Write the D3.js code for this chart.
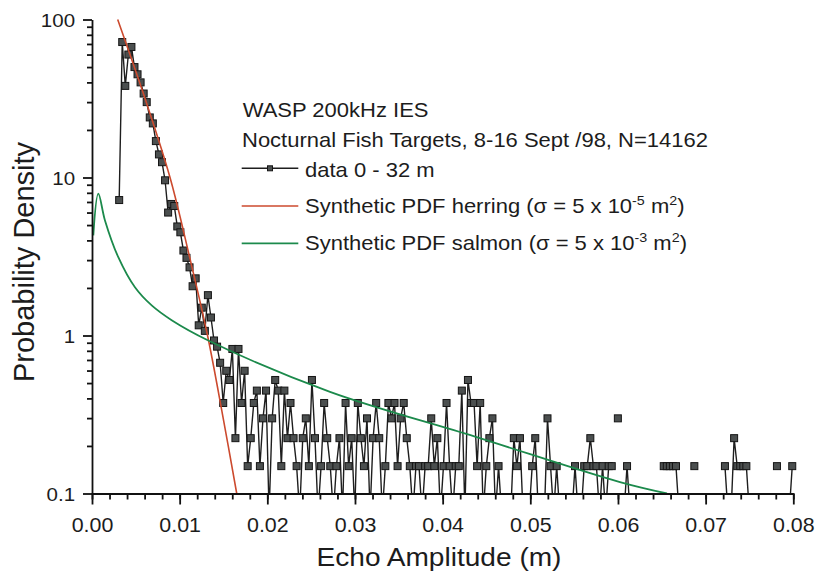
<!DOCTYPE html>
<html>
<head>
<meta charset="utf-8">
<script src="https://cdn.jsdelivr.net/npm/d3@7"></script>
<style>
  body { margin: 0; background: #fff; }
  svg { display: block; }
  text { font-family: "Liberation Sans", Arial, sans-serif; fill: #1c1c1c; }
</style>
</head>
<body>
<svg id="chart" width="817" height="573"></svg>
<script>
// histogram bins of the measured echo amplitudes
const binStart = 0.0031;
const binWidth = 0.000349;
const dataDensity = [
  7.2, 72, 38, 60, 67, 50, 45, 40, 34, 30, 24, 22, 17, 14, 12.5, 9.6, 6.0, 6.8, 6.6, 4.9,
  4.5, 3.45, 3.1, 2.7, 2.05, 2.3, 1.16, 1.5, 1.07, 1.8, 1.3, 0.93, 0.85,
  0.672, 0.374, 0.598, 0.523, 0.822, 0.224, 0.822, 0.374, 0.598, 0.149, 0.224, 0.374, 0.448, 0.149, 0.299, 0.448,
  0.075, 0.299, 0.523, 0.448, 0.149, 0.448, 0.224, 0.374, 0.224, 0.149, 0.075, 0.224, 0.299, 0.149, 0.523, 0.224,
  0.075, 0.149, 0.374, 0.224, 0.149,
  0.075, 0.149, 0.224, 0.075, 0.374, 0.149, 0.224, 0.075, 0.374, 0.224, 0.149, 0.299, 0.075, 0.224, 0.374, 0.224,
  0.075, 0.149, 0.374, 0.299, 0.374, 0.149, 0.299, 0.374, 0.224, 0.149, 0.075, 0.149, 0.149, 0.075, 0.149, 0.149,
  0.299, 0.149, 0.224, 0.075, 0.149, 0.374, 0.149, 0.075, 0.149, 0.149, 0.448, 0.075, 0.523, 0.374,
  0.374, 0.149, 0.374, 0.075, 0.149, 0.224, 0.299, 0.075, 0.149, 0.075, 0.075, 0.075, 0.075, 0.224, 0.149, 0.224,
  0.075, 0.075, 0.075, 0.149, 0.224, 0.075, 0.075, 0.075, 0.299, 0.149, 0.075, 0.149, 0.075, 0.075, 0.075, 0.075,
  0.075, 0.149, 0.075, 0.075, 0.149, 0.149, 0.224, 0.149, 0.149, 0.075, 0.149, 0.075, 0.149, 0.149, 0, 0.299,
  0, 0.075, 0.149, 0.075,
  0, 0, 0, 0, 0, 0, 0, 0, 0, 0, 0.149, 0.149, 0.149, 0.149, 0.149, 0.075, 0, 0, 0, 0,
  0.149, 0, 0, 0, 0, 0, 0, 0, 0, 0, 0.149, 0.075, 0.075, 0.224, 0.149, 0.149, 0.149, 0.149,
  0.075, 0, 0, 0, 0, 0, 0, 0, 0, 0.149, 0, 0, 0, 0.075, 0.149
];

// synthetic PDF curves
const herringX = [0.00293, 0.00605, 0.0089, 0.01112, 0.01318, 0.01489, 0.01651];
const herringY = [100, 31.6, 10, 3.16, 1, 0.316, 0.1];
const salmonX = [0.00015, 0.00072, 0.00148, 0.0030, 0.0049, 0.00681, 0.00909, 0.01327, 0.02715, 0.04369, 0.06023, 0.06559];
const salmonY = [4.3, 7.9, 5.35, 3.13, 2.02, 1.55, 1.25, 0.93, 0.44, 0.229, 0.118, 0.1];

const xMajorTicks = [0, 0.01, 0.02, 0.03, 0.04, 0.05, 0.06, 0.07, 0.08];
const yMajorTicks = [0.1, 1, 10, 100];
const yTickLabels = ["0.1", "1", "10", "100"];

const legendLines = [
  "WASP 200kHz IES",
  "Nocturnal Fish Targets, 8-16 Sept /98, N=14162"
];

const svg = d3.select("#chart");

const x = d3.scaleLinear().domain([0, 0.08]).range([92, 793.3]);
const y = d3.scaleLog().domain([0.1, 100]).range([493.5, 19.5]);

const dataPts = dataDensity.map((v, i) => ({ x: binStart + i * binWidth, y: v }));
const herringPts = herringX.map((v, i) => ({ x: v, y: herringY[i] }));
const salmonPts = salmonX.map((v, i) => ({ x: v, y: salmonY[i] }));

svg.append("defs").append("clipPath").attr("id", "plot-clip")
  .append("rect").attr("x", 92).attr("y", 10).attr("width", 720).attr("height", 483.5);

const plot = svg.append("g").attr("clip-path", "url(#plot-clip)");

const dataLine = d3.line()
  .defined(d => d.y > 0)
  .x(d => x(d.x))
  .y(d => y(d.y));

plot.append("path")
  .datum(dataPts)
  .attr("d", dataLine)
  .attr("fill", "none")
  .attr("stroke", "#1e1e1e")
  .attr("stroke-width", 1.4);

const sq = 7;
plot.selectAll("rect.pt")
  .data(dataPts.filter(d => d.y > 0))
  .enter().append("rect")
  .attr("class", "pt")
  .attr("x", d => x(d.x) - sq / 2)
  .attr("y", d => y(d.y) - sq / 2)
  .attr("width", sq)
  .attr("height", sq)
  .attr("fill", "#4b4f4f")
  .attr("stroke", "#151515")
  .attr("stroke-width", 1);

const curve = d3.line()
  .x(d => x(d.x))
  .y(d => y(d.y))
  .curve(d3.curveCatmullRom.alpha(0.5));

plot.append("path")
  .datum(herringPts)
  .attr("d", curve)
  .attr("fill", "none")
  .attr("stroke", "#cc4a2e")
  .attr("stroke-width", 1.6);

plot.append("path")
  .datum(salmonPts)
  .attr("d", curve)
  .attr("fill", "none")
  .attr("stroke", "#1c8a4c")
  .attr("stroke-width", 1.8);

// x axis
const xAxisG = svg.append("g").attr("transform", "translate(0,493.5)");
xAxisG.append("g")
  .call(d3.axisBottom(x).tickValues(d3.range(0, 0.0801, 0.002)).tickSize(6).tickFormat(""))
  .call(g => g.select(".domain").remove());
xAxisG.append("g")
  .call(d3.axisBottom(x).tickValues(xMajorTicks).tickSize(11).tickSizeOuter(0).tickFormat(d3.format(".2f")))
  .call(g => g.selectAll("text")
    .attr("y", 24)
    .attr("transform", "scale(1.07,1)")
    .style("font-size", "20px"));
xAxisG.selectAll("line, path").attr("stroke", "#111").attr("stroke-width", 1.8);

// y axis
const yMinor = [];
[0.1, 1, 10].forEach(dec => { for (let k = 2; k <= 9; k++) yMinor.push(dec * k); });

const yAxisG = svg.append("g").attr("transform", "translate(92,0)");
yAxisG.append("g")
  .call(d3.axisLeft(y).tickValues(yMinor).tickSize(5).tickFormat(""))
  .call(g => g.select(".domain").remove());
yAxisG.append("g")
  .call(d3.axisLeft(y).tickValues(yMajorTicks).tickSize(9).tickSizeOuter(0)
    .tickFormat((d, i) => yTickLabels[i]))
  .call(g => g.selectAll("text")
    .attr("x", -15.7)
    .attr("dy", "0.35em")
    .attr("transform", "scale(1.08,1)")
    .style("font-size", "19px"));
yAxisG.selectAll("line, path").attr("stroke", "#111").attr("stroke-width", 1.8);

// axis titles
svg.append("text")
  .attr("transform", "translate(439,566) scale(1.08,1)")
  .attr("text-anchor", "middle")
  .style("font-size", "26px")
  .text("Echo Amplitude (m)");

svg.append("text")
  .attr("transform", "translate(34,262) rotate(-90)")
  .attr("text-anchor", "middle")
  .style("font-size", "29px")
  .text("Probability Density");

// legend
const legend = svg.append("g");
const legendText = (tx, ty) => legend.append("text")
  .attr("transform", `translate(${tx},${ty}) scale(1.1,1)`)
  .style("font-size", "20px");

legendText(242.7, 116.7).text(legendLines[0]);
legendText(242, 146.7).text(legendLines[1]);

legend.append("line")
  .attr("x1", 241.7).attr("x2", 298.3).attr("y1", 168.3).attr("y2", 168.3)
  .attr("stroke", "#1e1e1e").attr("stroke-width", 1.4);
legend.append("rect")
  .attr("x", 267.5).attr("y", 165.8).attr("width", 5).attr("height", 5)
  .attr("fill", "#4b4f4f").attr("stroke", "#151515");
legendText(305, 176.7).text("data 0 - 32 m");

legend.append("line")
  .attr("x1", 241.7).attr("x2", 298.3).attr("y1", 206).attr("y2", 206)
  .attr("stroke", "#cc4a2e").attr("stroke-width", 1.6);
const tHerring = legendText(305, 213.3);
tHerring.append("tspan").text("Synthetic PDF herring (\u03c3 = 5 x 10");
tHerring.append("tspan").attr("dy", -8).style("font-size", "13px").text("-5");
tHerring.append("tspan").attr("dy", 8).text(" m");
tHerring.append("tspan").attr("dy", -8).style("font-size", "13px").text("2");
tHerring.append("tspan").attr("dy", 8).text(")");

legend.append("line")
  .attr("x1", 241.7).attr("x2", 298.3).attr("y1", 243.3).attr("y2", 243.3)
  .attr("stroke", "#1c8a4c").attr("stroke-width", 1.8);
const tSalmon = legendText(305, 250);
tSalmon.append("tspan").text("Synthetic PDF salmon (\u03c3 = 5 x 10");
tSalmon.append("tspan").attr("dy", -8).style("font-size", "13px").text("-3");
tSalmon.append("tspan").attr("dy", 8).text(" m");
tSalmon.append("tspan").attr("dy", -8).style("font-size", "13px").text("2");
tSalmon.append("tspan").attr("dy", 8).text(")");
</script>
</body>
</html>
